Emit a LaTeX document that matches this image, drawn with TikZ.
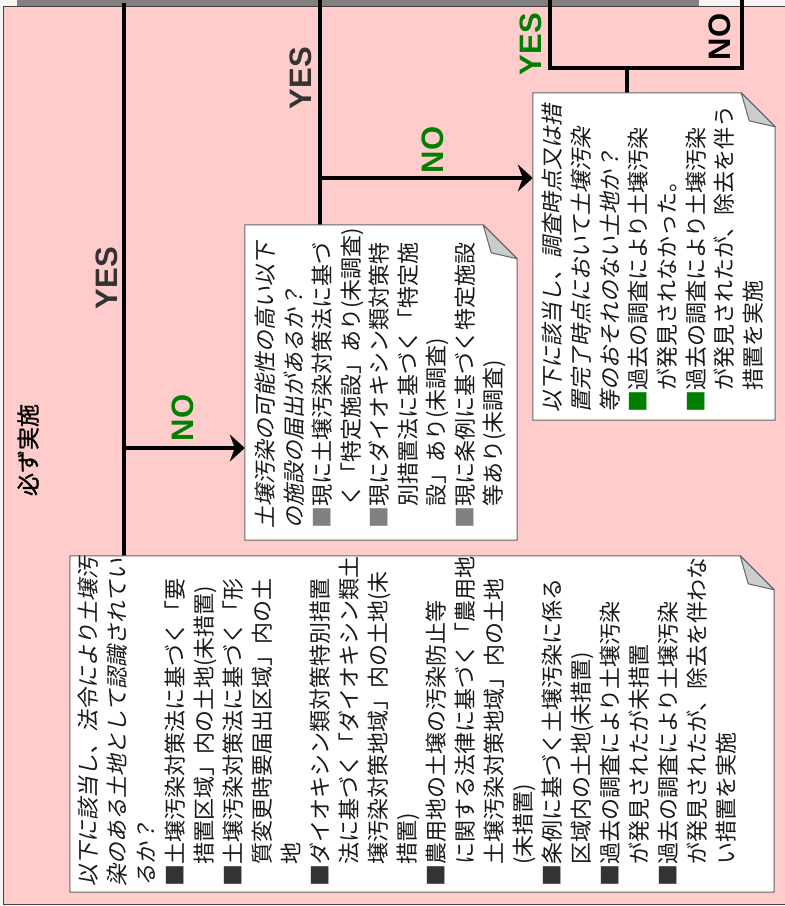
\documentclass[tikz,border=0pt]{standalone}
\usepackage{fontspec}
\setmainfont{Liberation Sans}
\newfontfamily\jp{Noto Sans CJK JP}
\newfontfamily\jpit[FakeSlant=0.2]{Noto Sans CJK JP}
\newfontfamily\jpbf[FakeBold=1.2]{Noto Sans CJK JP}
\newfontfamily\lab{Liberation Sans}
\usetikzlibrary{arrows.meta,calc}
\definecolor{pinkbg}{HTML}{FFCCCC}
\definecolor{pageb}{HTML}{F5F5F5}
\definecolor{barg}{HTML}{808080}
\definecolor{okgreen}{HTML}{008000}
\definecolor{labgray}{HTML}{333333}
\definecolor{foldg}{HTML}{CCCCCC}
\definecolor{boxline}{HTML}{666666}
\definecolor{sqdark}{HTML}{333333}
\definecolor{sqgray}{HTML}{808080}
\definecolor{frameline}{HTML}{4D4040}
\tikzset{
  flow/.style={line width=3.3pt},
  arrowline/.style={flow, -{Stealth[length=15pt,width=27pt,inset=5pt]}},
  notebox/.style={rectangle, inner sep=0pt, draw=none},
  yn/.style={rotate=90, font=\lab\bfseries\fontsize{31}{31}\selectfont, inner sep=0pt},
  notetext/.style={rotate=90, anchor=north west, inner sep=0pt, align=left, text=black!90},
}
\newcommand\notedraw[1]{%
  \draw[boxline, line width=1pt, fill=white] (#1.north west) -- ($(#1.north east)+(-34,0)$) -- ($(#1.north east)+(0,34)$) -- (#1.south east) -- (#1.south west) -- cycle;
  \draw[boxline, line width=1pt, fill=foldg, line join=round] ($(#1.north east)+(-34,0)$) -- ($(#1.north east)+(-26,28)$) -- ($(#1.north east)+(0,34)$) -- cycle;
}
\newcommand\ind{\phantom{■}}
\begin{document}
\begin{tikzpicture}[x=1pt,y=-1pt]
\useasboundingbox (0,0) rectangle (785,906);
\fill[pageb] (0,0) rectangle (785,906);
\fill[barg] (17,0) rectangle (699,5.5);
\draw[frameline, line width=1pt, fill=pinkbg] (3,6.5) rectangle (800,904);

% boxes
\node[notebox, minimum width=704pt, minimum height=336pt] (b1) at (422,724) {};
\node[notebox, minimum width=272pt, minimum height=315pt] (b2) at (381,382.5) {};
\node[notebox, minimum width=242pt, minimum height=327pt] (b3) at (654,256.5) {};

% connectors
\coordinate (top1) at (124,3);
\coordinate (top2) at (320,0);
\coordinate (top3) at (550,0);
\coordinate (top4) at (742,0);
\coordinate (j1) at (124,448);
\coordinate (j2) at (320,178);
\coordinate (j3) at (627,68);
\draw[flow] (top1) -- (top1 |- b1.north);
\draw[arrowline] (j1) -- (j1 -| b2.west);
\draw[flow] (top2) -- (top2 |- b2.north);
\draw[arrowline] (j2) -- (j2 -| b3.west);
\draw[flow, line join=miter] (top3) |- (j3 -| top4) -- (top4);
\draw[flow] (j3) -- (j3 |- b3.north);

\notedraw{b1}
\notedraw{b2}
\notedraw{b3}

\node[notetext, font=\jp\fontsize{22}{29}\selectfont] (t1) at (78,887) {%
{\jpit 以下に該当し、法令により土壌汚}\\
{\jpit 染のある土地として認識されてい}\\
{\jpit るか？}\\
\textcolor{sqdark}{■}土壌汚染対策法に基づく「要\\
\ind 措置区域」内の土地(未措置)\\
\textcolor{sqdark}{■}土壌汚染対策法に基づく「形\\
\ind 質変更時要届出区域」内の土\\
\ind 地\\
\textcolor{sqdark}{■}ダイオキシン類対策特別措置\\
\ind 法に基づく「ダイオキシン類土\\
\ind 壌汚染対策地域」内の土地(未\\
\ind 措置)\\
\textcolor{sqdark}{■}農用地の土壌の汚染防止等\\
\ind に関する法律に基づく「農用地\\
\ind 土壌汚染対策地域」内の土地\\
\ind (未措置)\\
\textcolor{sqdark}{■}条例に基づく土壌汚染に係る\\
\ind 区域内の土地(未措置)\\
\textcolor{sqdark}{■}過去の調査により土壌汚染\\
\ind が発見されたが未措置\\
\textcolor{sqdark}{■}過去の調査により土壌汚染\\
\ind が発見されたが、除去を伴わな\\
\ind い措置を実施};

\node[notetext, font=\jp\fontsize{22}{28.5}\selectfont] (t2) at (255,529) {%
{\jpit 土壌汚染の可能性の高い以下}\\
{\jpit の施設の届出があるか？}\\
\textcolor{sqgray}{■}現に土壌汚染対策法に基づ\\
\ind く「特定施設」あり(未調査)\\
\textcolor{sqgray}{■}現にダイオキシン類対策特\\
\ind 別措置法に基づく「特定施\\
\ind 設」あり(未調査)\\
\textcolor{sqgray}{■}現に条例に基づく特定施設\\
\ind 等あり(未調査)};

\node[notetext, font=\jp\fontsize{22}{28.7}\selectfont] (t3) at (542,413) {%
{\jpit 以下に該当し、調査時点又は措}\\
{\jpit 置完了時点において土壌汚染}\\
{\jpit 等のおそれのない土地か？}\\
\textcolor{okgreen}{■}過去の調査により土壌汚染\\
\ind が発見されなかった。\\
\textcolor{okgreen}{■}過去の調査により土壌汚染\\
\ind が発見されたが、除去を伴う\\
\ind 措置を実施};

% labels
\node[yn, text=labgray] (y1) at (107,278) {YES};
\node[yn, text=labgray] (y2) at (301,78) {YES};
\node[yn, text=okgreen] (y3) at (531,44) {YES};
\node[yn, text=black] (n1) at (720,37) {NO};
\node[yn, text=okgreen] (n2) at (433,150) {NO};
\node[yn, text=okgreen] (n3) at (183,418) {NO};
\node[rotate=90, inner sep=0pt, font=\jpbf\fontsize{23}{23}\selectfont] (must) at (28,450) {必ず実施};
\end{tikzpicture}
\end{document}
